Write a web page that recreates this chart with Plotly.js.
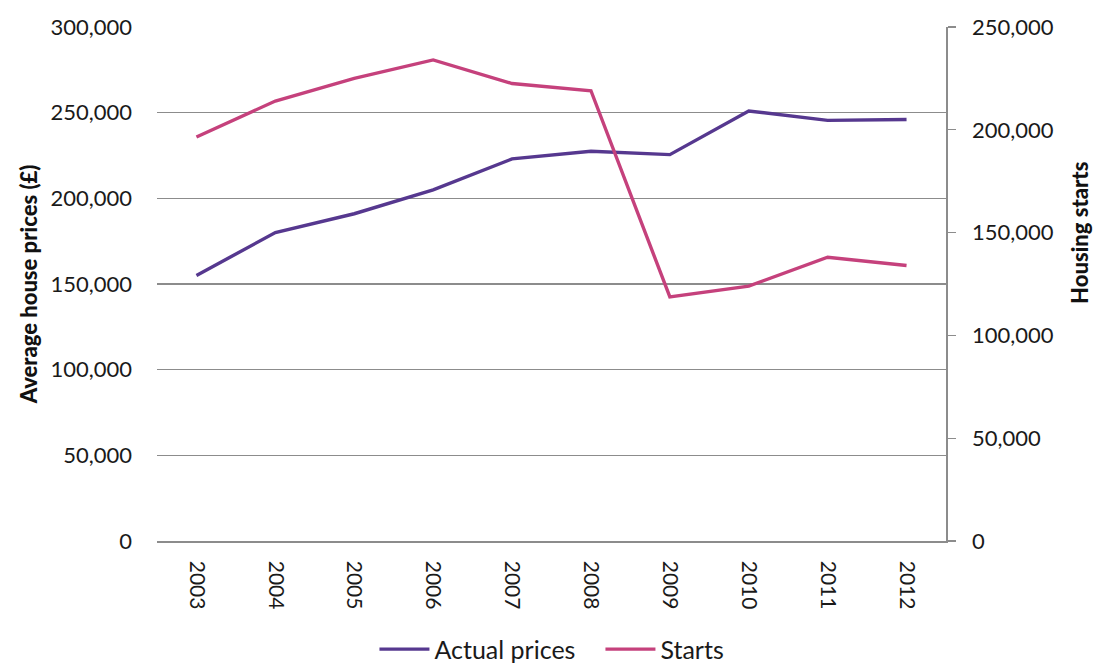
<!DOCTYPE html>
<html>
<head>
<meta charset="utf-8">
<script src="https://cdn.plot.ly/plotly-3.0.1.min.js"></script>
<style>html,body{margin:0;padding:0;background:#fff;}#chart{width:1093px;height:664px;}</style>
</head>
<body>
<div id="chart"></div>
<script>
const years = ["2003","2004","2005","2006","2007","2008","2009","2010","2011","2012"];
const actualPrices = [155000, 180000, 191000, 205000, 223000, 227500, 225500, 251000, 245500, 246000];
const starts = [196500, 214000, 225000, 234000, 222500, 219000, 118700, 124000, 138000, 134000];
const leftTicks = [0, 50000, 100000, 150000, 200000, 250000, 300000];
const rightTicks = [0, 50000, 100000, 150000, 200000, 250000];
const fmt = v => v.toLocaleString("en-GB");

const FONT = "Lato, 'Open Sans', sans-serif";
const traces = [
  {x: years, y: actualPrices, name: "Actual prices", type: "scatter", mode: "lines",
   line: {color: "#56388f", width: 3.4}, yaxis: "y"},
  {x: years, y: starts, name: "Starts", type: "scatter", mode: "lines",
   line: {color: "#c5417c", width: 3.4}, yaxis: "y2"}
];
const layout = {
  width: 1093, height: 664,
  margin: {l: 157, r: 147, t: 27, b: 123},
  paper_bgcolor: "#fff", plot_bgcolor: "#fff",
  font: {family: FONT, size: 22, color: "#1a1a1a"},
  showlegend: true,
  legend: {orientation: "h", x: 0.2756, xanchor: "left", yref: "container", y: 0.022, yanchor: "middle",
           font: {family: FONT, size: 25, color: "#1a1a1a"}, itemwidth: 50, tracegroupgap: 0,
           entrywidth: 161},
  xaxis: {type: "category", range: [-0.5, 9.5], tickangle: 90, showgrid: false, zeroline: false,
          showline: true, linecolor: "#8c8c8c", linewidth: 1.5, ticks: "", ticklen: 0,
          ticklabelstandoff: 14,
          tickfont: {family: FONT, size: 21, color: "#1a1a1a"}, automargin: false},
  yaxis: {range: [0, 300000], tickvals: leftTicks, ticktext: leftTicks.map(fmt),
          showgrid: true, gridcolor: "#8c8c8c", gridwidth: 1.2, zeroline: false,
          showline: false, ticks: "", ticklabelstandoff: 24,
          tickfont: {family: FONT, size: 22, color: "#1a1a1a"},
          title: {text: "Average house prices (£)", standoff: 6,
                  font: {family: FONT, size: 22, color: "#111", weight: 900}}, automargin: false},
  yaxis2: {range: [0, 250000], tickvals: rightTicks, ticktext: rightTicks.map(fmt),
           overlaying: "y", side: "right", showgrid: false, zeroline: false,
           showline: true, linecolor: "#8c8c8c", linewidth: 1.5,
           ticks: "outside", ticklen: 8, tickcolor: "#8c8c8c", tickwidth: 1.2,
           ticklabelstandoff: 12,
           tickfont: {family: FONT, size: 22, color: "#1a1a1a"}, automargin: false},
  annotations: [
    {text: "Housing starts", xref: "paper", yref: "paper", x: 1.169, y: 0.6,
     xanchor: "center", yanchor: "middle", textangle: -90, showarrow: false,
     font: {family: FONT, size: 22, color: "#111", weight: 900}}
  ]
};
Plotly.newPlot("chart", traces, layout, {displayModeBar: false, staticPlot: true});
</script>
</body>
</html>
